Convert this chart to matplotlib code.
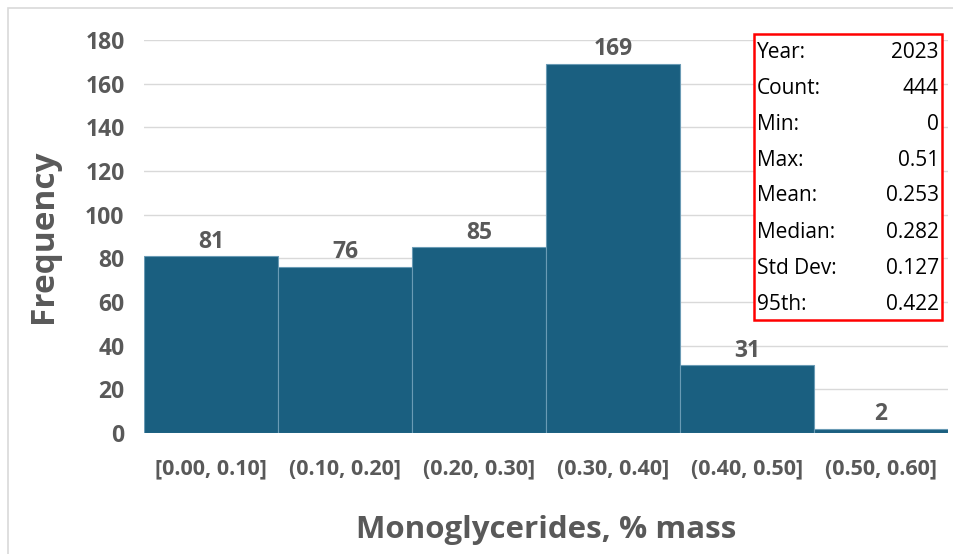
import matplotlib
matplotlib.use("Agg")
import matplotlib.pyplot as plt
from matplotlib.patches import Rectangle

categories = ["[0.00, 0.10]", "(0.10, 0.20]", "(0.20, 0.30]", "(0.30, 0.40]", "(0.40, 0.50]", "(0.50, 0.60]"]
counts = [81, 76, 85, 169, 31, 2]
yticks = [0, 20, 40, 60, 80, 100, 120, 140, 160, 180]
stat_labels = ["Year:", "Count:", "Min:", "Max:", "Mean:", "Median:", "Std Dev:", "95th:"]
stat_values = ["2023", "444", "0", "0.51", "0.253", "0.282", "0.127", "0.422"]

W, H = 954, 554
fig = plt.figure(figsize=(W / 100, H / 100), dpi=100)
fig.patch.set_facecolor("white")
fig.patches.append(Rectangle((8 / W, -0.01), 1.0, 1 - 8 / H + 0.01, transform=fig.transFigure,
                             fill=False, edgecolor="#d9d9d9", linewidth=1.2))

ax = fig.add_axes([144 / W, 1 - 433 / H, (948 - 144) / W, (433 - 40) / H])
fam = ["Open Sans", "DejaVu Sans"]
gray = "#595959"
bar_color = "#1a5f80"

x = list(range(len(categories)))
ax.bar(x, counts, width=1.0, color=bar_color, edgecolor="#6a9bb5", linewidth=0.8, zorder=3)
ax.set_xlim(-0.5, len(categories) - 0.5)
ax.set_ylim(0, 180)
ax.set_yticks(yticks)
ax.set_yticklabels([str(v) for v in yticks], fontsize=16.5, fontweight="bold", color=gray, family=fam)
ax.set_xticks(x)
ax.set_xticklabels(categories, fontsize=15.5, fontweight="bold", color=gray, family=fam)
ax.tick_params(axis="both", length=0)
ax.tick_params(axis="y", pad=14)
ax.tick_params(axis="x", pad=18)
ax.grid(axis="y", color="#d9d9d9", linewidth=1.0, zorder=0)
for s in ax.spines.values():
    s.set_visible(False)

for xi, c in zip(x, counts):
    ax.text(xi, c + 1.2, str(c), ha="center", va="bottom", fontsize=16.5, fontweight="bold",
            color=gray, family=fam, zorder=4)

ax.set_ylabel("Frequency", fontsize=24, fontweight="bold", color=gray, family=fam, labelpad=18)
ax.set_xlabel("Monoglycerides, % mass", fontsize=22.5, fontweight="bold", color=gray, family=fam, labelpad=26)

# stats box
bx0, by0, bx1, by1 = 754, 34, 942, 320
fig.patches.append(Rectangle((bx0 / W, 1 - by1 / H), (bx1 - bx0) / W, (by1 - by0) / H,
                             transform=fig.transFigure, facecolor="white", edgecolor="#ff0000",
                             linewidth=1.8, zorder=10))
row_y = [52 + i * 36 for i in range(len(stat_labels))]
for lbl, val, ry in zip(stat_labels, stat_values, row_y):
    fig.text(757 / W, 1 - ry / H, lbl, ha="left", va="center", fontsize=15, color="black",
             family=fam, zorder=11)
    fig.text(939 / W, 1 - ry / H, val, ha="right", va="center", fontsize=15, color="black",
             family=fam, zorder=11)

fig.savefig("out.png", dpi=100)
